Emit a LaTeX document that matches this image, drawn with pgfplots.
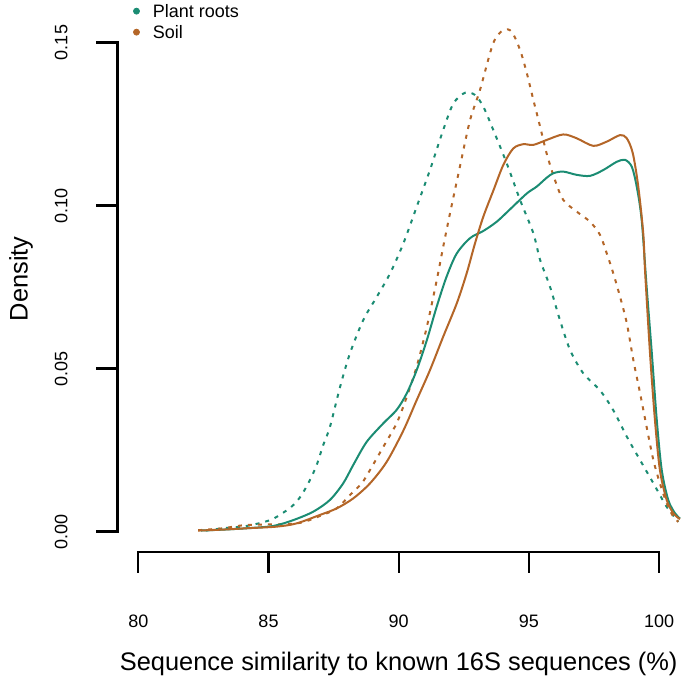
\documentclass[border=0pt]{standalone}
\usepackage{fontspec}
\setmainfont{Liberation Sans}
\usepackage{pgfplots}
\pgfplotsset{compat=1.18}
\definecolor{roots}{RGB}{27,140,115}
\definecolor{soil}{RGB}{180,102,40}

\newcommand{\ticksize}{\fontsize{9}{10.5}\selectfont}
\newcommand{\labsize}{\fontsize{12.7}{15}\selectfont}

\begin{document}
\begin{tikzpicture}
\begin{axis}[
  scale only axis, width=281.23pt, height=264.39pt,
  xmin=79.2, xmax=100.8, ymin=-0.0062, ymax=0.156,
  hide axis, clip=false,
  legend image code/.code={\fill[#1] (0pt,0pt) circle (1.5pt);},
  legend cell align=left,
  legend style={draw=none, fill=none, inner sep=0pt, outer sep=0pt,
    at={(axis cs:79.80,0.1564)}, anchor=west, font=\ticksize,
    column sep=6.5pt, row sep=2.5pt,
    nodes={inner sep=0pt, text height=7pt, text depth=1pt}},
]
\addlegendimage{roots}
\addlegendentry{Plant roots}
\addlegendimage{soil}
\addlegendentry{Soil}

% dashed densities
\addplot[roots, line width=1pt, dash pattern=on 2pt off 3pt, smooth] coordinates {
(82.6,0.0003)(83.26,0.0010)(84.16,0.0017)(85.06,0.0035)(85.57,0.0058)(85.95,0.0081)
(86.27,0.0112)(86.59,0.0158)(86.85,0.0204)(87.10,0.0265)(87.36,0.0321)(87.75,0.0444)
(88.13,0.0547)(88.64,0.0649)(89.16,0.0720)(89.67,0.0792)(90.18,0.0884)(90.69,0.0996)
(91.20,0.1109)(91.71,0.1232)(92.10,0.1313)(92.55,0.1346)(92.93,0.1339)(93.25,0.1303)
(93.63,0.1232)(94.15,0.1129)(94.66,0.1017)(95.17,0.0915)(95.43,0.0833)(95.81,0.0751)
(96.19,0.0649)(96.58,0.0557)(97.09,0.0485)(97.73,0.0433)(98.24,0.0372)(98.76,0.0291)
(99.27,0.0219)(99.78,0.0148)(100.29,0.0076)(100.74,0.0030)
};
\addplot[soil, line width=1pt, dash pattern=on 2pt off 3pt, smooth] coordinates {
(82.30,0.0004)(83.26,0.0010)(84.16,0.0020)(86.08,0.0025)(86.98,0.0048)(87.62,0.0071)
(88.13,0.0112)(88.58,0.0148)(88.90,0.0189)(89.41,0.0260)(89.92,0.0332)(90.31,0.0413)
(90.69,0.0506)(91.08,0.0628)(91.46,0.0771)(91.71,0.0874)(91.97,0.0976)(92.35,0.1119)
(92.74,0.1262)(93.12,0.1354)(93.63,0.1498)(94.02,0.1538)(94.34,0.1533)(94.66,0.1477)
(94.92,0.1406)(95.17,0.1324)(95.43,0.1242)(95.68,0.1160)(96.00,0.1078)(96.32,0.1017)
(96.84,0.0981)(97.35,0.0950)(97.73,0.0910)(97.99,0.0853)(98.24,0.0792)(98.50,0.0720)
(98.76,0.0639)(99.01,0.0526)(99.27,0.0424)(99.52,0.0321)(99.78,0.0219)(100.03,0.0148)
(100.29,0.0087)(100.55,0.0045)(100.74,0.0030)
};
% solid densities
\addplot[roots, line width=1pt, smooth] coordinates {
(82.4,0.0003)(83.3,0.0006)(84.16,0.0010)(85.18,0.0017)(85.95,0.0035)(86.72,0.0061)
(87.36,0.0097)(87.87,0.0148)(88.26,0.0205)(88.77,0.0275)(89.41,0.0332)(89.92,0.0373)
(90.31,0.0424)(90.69,0.0495)(91.08,0.0587)(91.46,0.0690)(91.84,0.0782)(92.23,0.0853)
(92.74,0.0900)(93.25,0.0922)(93.76,0.0950)(94.27,0.0988)(94.92,0.1037)(95.30,0.1058)
(95.68,0.1085)(95.94,0.1099)(96.32,0.1104)(96.84,0.1094)(97.35,0.1091)(97.86,0.1109)
(98.37,0.1134)(98.69,0.1140)(98.95,0.1119)(99.14,0.1058)(99.33,0.0956)(99.52,0.0751)
(99.72,0.0547)(99.91,0.0342)(100.10,0.0189)(100.35,0.0097)(100.61,0.0056)(100.80,0.0040)
};
\addplot[soil, line width=1pt, smooth] coordinates {
(82.3,0.0003)(83.26,0.0006)(84.16,0.0010)(85.31,0.0015)(86.08,0.0025)(86.98,0.0051)
(87.62,0.0071)(88.26,0.0102)(88.90,0.0148)(89.54,0.0214)(90.18,0.0310)(90.69,0.0403)
(91.20,0.0495)(91.71,0.0598)(92.23,0.0700)(92.61,0.0792)(92.93,0.0884)(93.25,0.0966)
(93.63,0.1045)(94.02,0.1125)(94.40,0.1175)(94.78,0.1188)(95.17,0.1186)(95.68,0.1201)
(96.32,0.1218)(96.84,0.1206)(97.47,0.1183)(97.99,0.1196)(98.50,0.1216)(98.76,0.1206)
(98.99,0.1160)(99.20,0.1058)(99.39,0.0915)(99.46,0.0800)(99.65,0.0547)(99.84,0.0342)
(100.03,0.0189)(100.29,0.0097)(100.55,0.0056)(100.80,0.0038)
};

% R-style detached axes
\draw[line width=1.1pt] ([xshift=-10.5pt]axis cs:79.2,0.15) -- (axis cs:79.2,0.15)
  -- (axis cs:79.2,0) -- ([xshift=-10.5pt]axis cs:79.2,0);
\draw[line width=1.1pt] ([xshift=-10.5pt]axis cs:79.2,0.05) -- (axis cs:79.2,0.05);
\draw[line width=1.1pt] ([xshift=-10.5pt]axis cs:79.2,0.10) -- (axis cs:79.2,0.10);
\draw[line width=1.1pt] ([yshift=-10.5pt]axis cs:80,-0.0062) -- (axis cs:80,-0.0062)
  -- (axis cs:100,-0.0062) -- ([yshift=-10.5pt]axis cs:100,-0.0062);
\draw[line width=1.1pt] ([yshift=-10.5pt]axis cs:85,-0.0062) -- (axis cs:85,-0.0062);
\draw[line width=1.1pt] ([yshift=-10.5pt]axis cs:90,-0.0062) -- (axis cs:90,-0.0062);
\draw[line width=1.1pt] ([yshift=-10.5pt]axis cs:95,-0.0062) -- (axis cs:95,-0.0062);

\node[rotate=90, font=\ticksize] at ([xshift=-28.2pt]axis cs:79.2,0) {0.00};
\node[rotate=90, font=\ticksize] at ([xshift=-28.2pt]axis cs:79.2,0.05) {0.05};
\node[rotate=90, font=\ticksize] at ([xshift=-28.2pt]axis cs:79.2,0.10) {0.10};
\node[rotate=90, font=\ticksize] at ([xshift=-28.2pt]axis cs:79.2,0.15) {0.15};
\node[rotate=90, font=\labsize] at ([xshift=-48.2pt]axis cs:79.2,0.0775) {Density};

\node[font=\ticksize] at ([yshift=-35pt]axis cs:80,-0.0062) {80};
\node[font=\ticksize] at ([yshift=-35pt]axis cs:85,-0.0062) {85};
\node[font=\ticksize] at ([yshift=-35pt]axis cs:90,-0.0062) {90};
\node[font=\ticksize] at ([yshift=-35pt]axis cs:95,-0.0062) {95};
\node[font=\ticksize] at ([yshift=-35pt]axis cs:100,-0.0062) {100};
\node[font=\labsize] at ([yshift=-56pt]axis cs:90,-0.0062) {Sequence similarity to known 16S sequences (\%)};

\coordinate (bbA) at (axis cs:74.689,-0.04617);
\coordinate (bbB) at (axis cs:100.994,0.16304);
\end{axis}
\pgfresetboundingbox
\path[use as bounding box] (bbA) rectangle (bbB);
\end{tikzpicture}
\end{document}
